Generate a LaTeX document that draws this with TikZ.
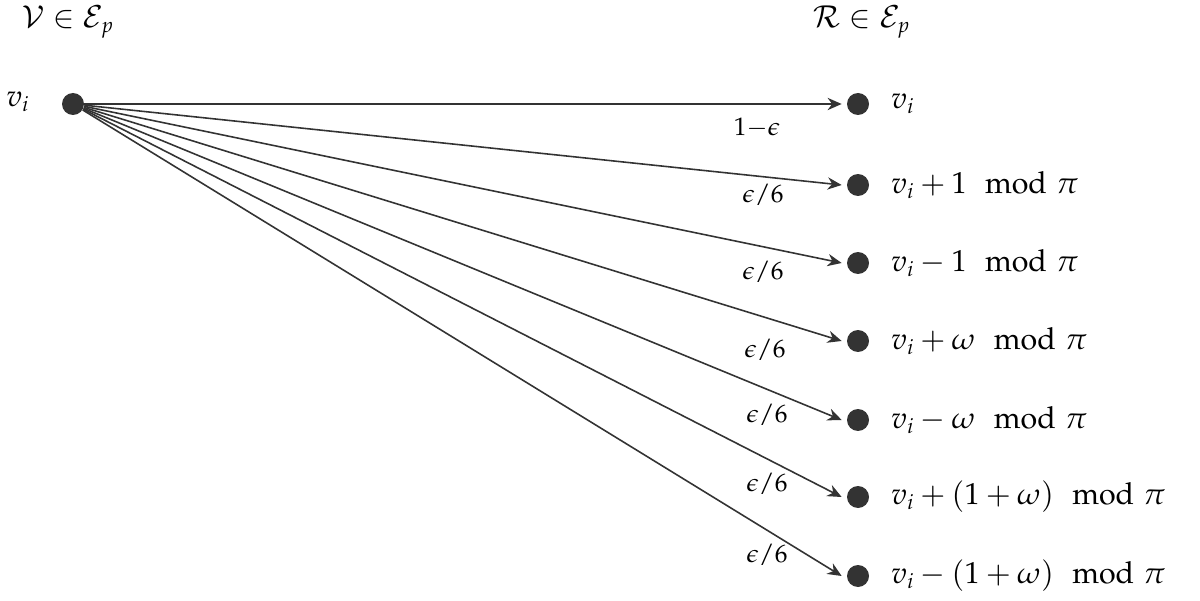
\documentclass[tikz,border=0pt]{standalone}
\usepackage{mathpazo}
\usetikzlibrary{arrows.meta}
\newcommand{\mymod}{\ \ \mathrm{mod}\ \pi}
\begin{document}
\begin{tikzpicture}[x=0.02cm,y=-0.02cm,
  dot/.style={circle,fill=black!80,inner sep=0pt,minimum size=0.44cm},
  arr/.style={draw=black!80,line width=0.9pt,-{Stealth[length=8pt,width=7pt]}},
  lab/.style={font=\LARGE,anchor=west},
  el/.style={font=\Large}]
\path[use as bounding box] (0,0) rectangle (1200,601);
\node[font=\LARGE] (tl) at (68,22) {$\mathcal{V}\in\mathcal{E}_p$};
\node[font=\LARGE] (tr) at (862,22) {$\mathcal{R}\in\mathcal{E}_p$};
\node[dot] (s) at (73,104) {};
\node[font=\LARGE] (vi) at (18,102) {$v_i$};
\foreach \n/\y/\txt in {0/104/{v_i},1/185/{v_i+1\mymod},2/263/{v_i-1\mymod},3/341/{v_i+\omega\mymod},4/420/{v_i-\omega\mymod},5/497/{v_i+(1+\omega)\mymod},6/576/{v_i-(1+\omega)\mymod}}{
  \node[dot] (d\n) at (858,\y) {};
  \node[lab] (t\n) at (885,\y) {$\txt$};
  \draw[arr] (s) -- ([xshift=-0.1cm]d\n.west);
}
\node[el] (e0) at (757,128) {$1{-}\epsilon$};
\node[el] (e1) at (763,195) {$\epsilon/6$};
\node[el] (e2) at (763,272) {$\epsilon/6$};
\node[el] (e3) at (765,350) {$\epsilon/6$};
\node[el] (e4) at (767,415) {$\epsilon/6$};
\node[el] (e5) at (767,484) {$\epsilon/6$};
\node[el] (e6) at (767,555) {$\epsilon/6$};
\end{tikzpicture}
\end{document}
